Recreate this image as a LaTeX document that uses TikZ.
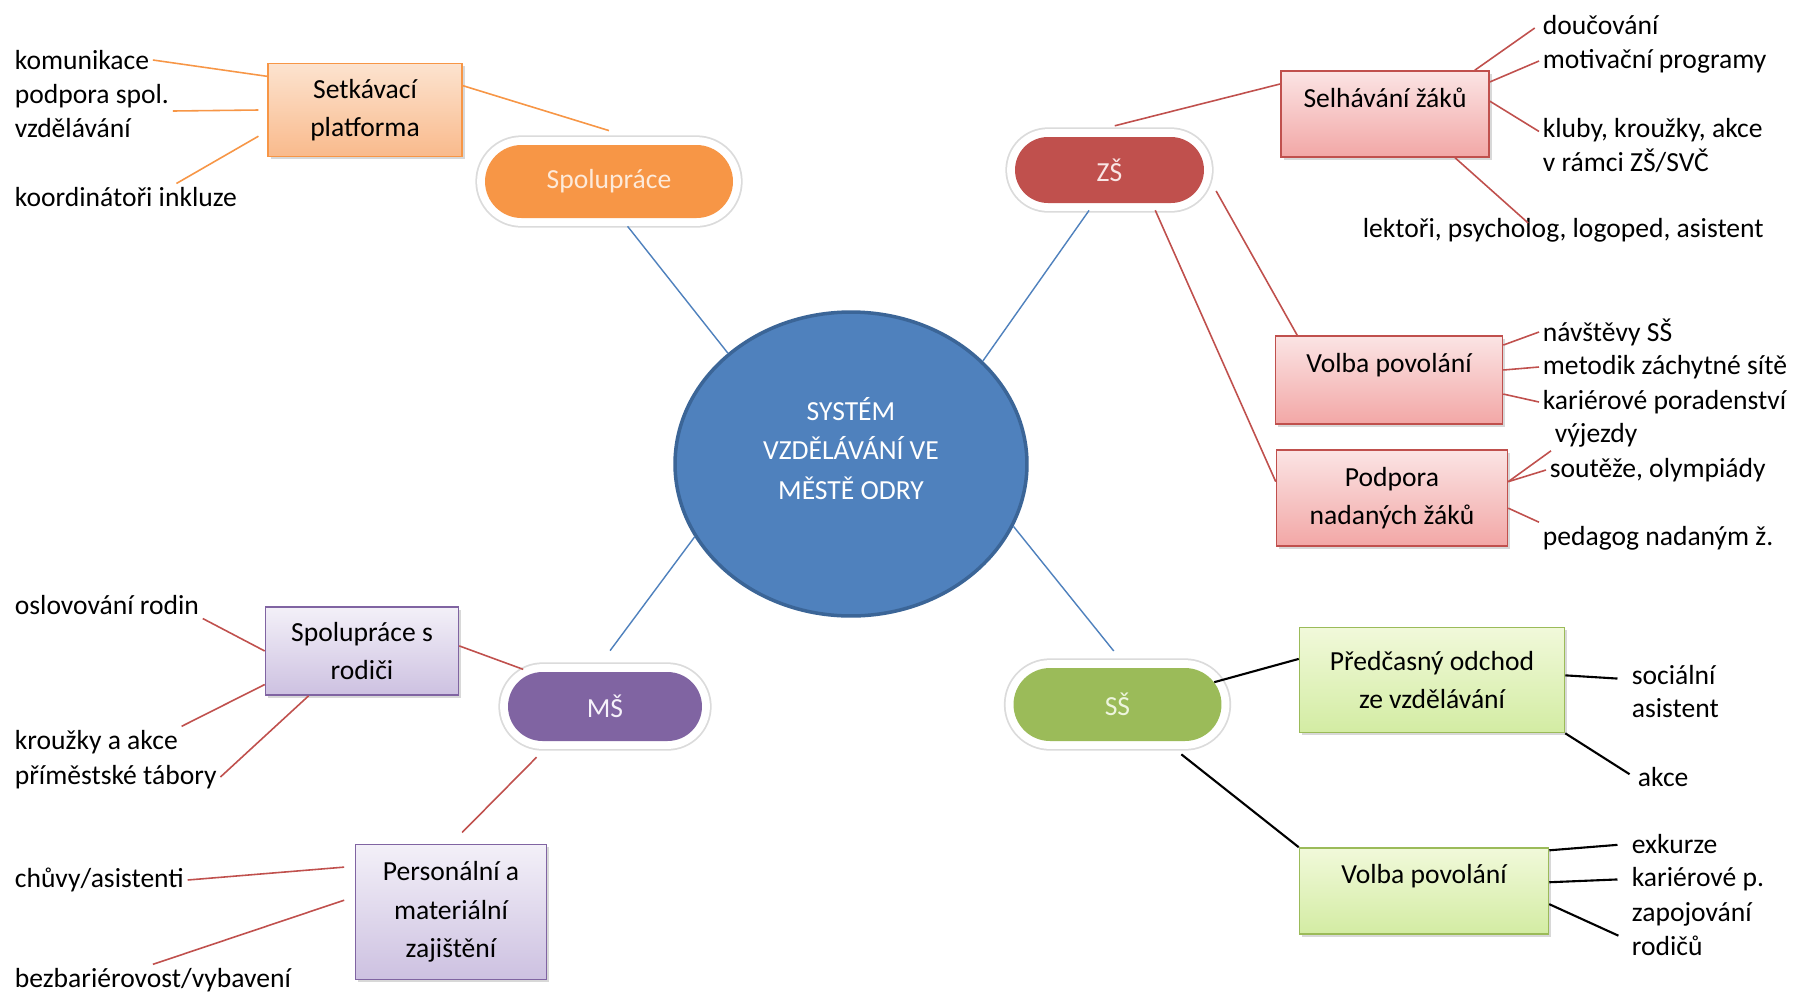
\documentclass[tikz,border=0pt]{standalone}
\usepackage{fontspec}
\setmainfont{Carlito}
\usetikzlibrary{positioning, shapes.geometric, shapes.misc, shadows}

\definecolor{sysblue}{HTML}{4F81BD}
\definecolor{sysbluedk}{HTML}{3B6597}
% pill colours
\definecolor{orgfill}{HTML}{F79646}
\definecolor{redfill}{HTML}{C0504D}
\definecolor{purfill}{HTML}{8064A2}
\definecolor{grnfill}{HTML}{9BBB59}
\definecolor{orgtxt}{HTML}{FDEADA}
\definecolor{redtxt}{HTML}{F9E6E5}
\definecolor{purtxt}{HTML}{F6F2FA}
\definecolor{grntxt}{HTML}{EEF5DE}
% box colours
\definecolor{orgtop}{HTML}{FCE3CF}
\definecolor{orgbot}{HTML}{F9BA8C}
\definecolor{orgline}{HTML}{F79646}
\definecolor{redtop}{HTML}{FBE4E4}
\definecolor{redbot}{HTML}{F2A7A6}
\definecolor{redline}{HTML}{C0504D}
\definecolor{purtop}{HTML}{F3F0F8}
\definecolor{purbot}{HTML}{CDC1E1}
\definecolor{purline}{HTML}{8064A2}
\definecolor{grntop}{HTML}{F1F9DA}
\definecolor{grnbot}{HTML}{D3ECA3}
\definecolor{grnline}{HTML}{9BBB59}

\newcommand{\txtfont}{\fontsize{15.7}{19.3}\selectfont}
\newcommand{\boxfont}{\fontsize{15.7}{22}\selectfont}

\begin{document}
\begin{tikzpicture}[x=0.02cm, y=-0.02cm,% one unit = one pixel of the 1796x995 sheet
   pill/.style = {rounded rectangle, fill=#1fill, text=#1txt, inner sep=0pt, font=\boxfont,
                  preaction={draw=black!14, line width=11pt},
                  preaction={draw=white, line width=9pt}},
    box/.style = {rectangle, draw=#1line, top color=#1top, bottom color=#1bot,
                  line width=0.9pt, inner sep=2pt, align=center, font=\boxfont,
                  drop shadow={shadow xshift=1.5pt, shadow yshift=-1.5pt, opacity=0.3}},
    lbl/.style = {anchor=west, inner sep=2pt, align=left, font=\txtfont},
  blink/.style = {draw=sysblue, line width=0.8pt},
  olink/.style = {draw=orgfill, line width=0.9pt},
  rlink/.style = {draw=redline, line width=0.9pt},
  klink/.style = {draw=black, line width=1.2pt}
                        ]
\fill[white] (0,0) rectangle (1796,995);
\useasboundingbox (0,0) rectangle (1796,995);

% centre
\node (ell) [ellipse, fill=sysblue, draw=sysbluedk, line width=2pt, text=white,
             minimum width=7.04cm, minimum height=6.08cm, align=center,
             font=\fontsize{15.7}{22.5}\selectfont, text depth=18pt] at (851,464)
             {SYSTÉM\\VZDĚLÁVÁNÍ VE\\MĚSTĚ ODRY};

% the four branches
\node (spol) [pill=org, minimum width=4.96cm, minimum height=1.46cm] at (609,181.5) {Spolupráce};
\node (zs)   [pill=red, minimum width=3.78cm, minimum height=1.32cm] at (1109.5,170) {ZŠ};
\node (ms)   [pill=pur, minimum width=3.88cm, minimum height=1.38cm] at (605,706.5) {MŠ};
\node (ss)   [pill=grn, minimum width=4.16cm, minimum height=1.46cm] at (1117.5,704.5) {SŠ};

% boxes
\node (setk)  [box=org, minimum width=3.88cm, minimum height=1.86cm] at (365,110) {Setkávací\\platforma};
\node (selh)  [box=red, minimum width=4.16cm, minimum height=1.72cm, text depth=19pt] at (1385,114) {Selhávání žáků};
\node (volzs) [box=red, minimum width=4.54cm, minimum height=1.76cm, text depth=19pt] at (1389,380) {Volba povolání};
\node (podp)  [box=red, minimum width=4.62cm, minimum height=1.92cm] at (1392,498) {Podpora\\nadaných žáků};
\node (sprod) [box=pur, minimum width=3.86cm, minimum height=1.76cm] at (362,651) {Spolupráce s\\rodiči};
\node (pers)  [box=pur, minimum width=3.82cm, minimum height=2.70cm] at (451,912) {Personální a\\materiální\\zajištění};
\node (pred)  [box=grn, minimum width=5.30cm, minimum height=2.10cm] at (1432,680) {Předčasný odchod\\ze vzdělávání};
\node (volss) [box=grn, minimum width=4.98cm, minimum height=1.72cm, text depth=19pt] at (1424,891) {Volba povolání};

% labels
\node (kom)   [lbl] at (11,60)     {komunikace};
\node (pod)   [lbl] at (11,111)    {podpora spol.\\vzdělávání};
\node (koord) [lbl] at (11,197)    {koordinátoři inkluze};
\node (dou)   [lbl] at (1539,25)   {doučování};
\node (mot)   [lbl] at (1539,61)   {motivační programy};
\node (klub)  [lbl] at (1539,145.5) {kluby, kroužky, akce\\v rámci ZŠ/SVČ};
\node (lek)   [lbl] at (1359,230)  {lektoři, psycholog, logoped, asistent};
\node (nav)   [lbl] at (1539,332)  {návštěvy SŠ};
\node (met)   [lbl] at (1539,367)  {metodik záchytné sítě};
\node (kar)   [lbl] at (1539,402)  {kariérové poradenství};
\node (vyj)   [lbl] at (1551,435)  {výjezdy};
\node (sout)  [lbl] at (1546,470)  {soutěže, olympiády};
\node (ped)   [lbl] at (1539,538)  {pedagog nadaným ž.};
\node (osl)   [lbl] at (11,605)    {oslovování rodin};
\node (krou)  [lbl] at (11,742)    {kroužky a akce};
\node (prim)  [lbl] at (11,777)    {příměstské tábory};
\node (chu)   [lbl] at (11,880)    {chůvy/asistenti};
\node (bez)   [lbl] at (11,980)    {bezbariérovost/vybavení};
\node (soc)   [lbl] at (1628,691.5) {sociální\\asistent};
\node (akce)  [lbl] at (1634,777)  {akce};
\node (exk)   [lbl] at (1628,844)  {exkurze};
\node (karp)  [lbl] at (1628,879)  {kariérové p.};
\node (zap)   [lbl] at (1628,929.5) {zapojování\\rodičů};

% centre to branches
\draw [blink, shorten >=5.8pt]  (ell.138) -- ([xshift=7pt]spol.south);
\draw [blink, shorten >=4.9pt]  (ell.38)  -- ([xshift=-8.8pt]zs.south);
\draw [blink, shorten >=14.9pt] (ell.205) -- ([xshift=-6pt]ms.north);
\draw [blink, shorten >=12.2pt] (ell.-21) -- ([xshift=5.5pt]ss.north);

% Spolupráce
\draw [olink] (setk.14) -- ([yshift=8pt]spol.north);
\draw [olink] (kom.east) -- (setk.161);
\draw [olink] (pod.east) -- ([xshift=-5pt]setk.west);
\draw [olink] (koord.15) -- ([xshift=-5pt]setk.195);

% ZŠ
\draw [rlink] ([xshift=3pt,yshift=6.2pt]zs.north) -- (selh.164);
\draw [rlink, shorten <=13.7pt] (zs.east) -- (volzs.154);
\draw [rlink, shorten <=4.3pt] (zs.-38) -- (podp.172);
\draw [rlink, shorten >=3pt] (selh.26) -- (dou.west);
\draw [rlink] (selh.17) -- (mot.west);
\draw [rlink] (selh.7) -- ([yshift=8pt]klub.west);
\draw [rlink] (selh.-32) -- ([xshift=-20pt,yshift=-5pt]lek.north);
\draw [rlink] (volzs.17) -- (nav.west);
\draw [rlink] (volzs.5) -- (met.west);
\draw [rlink] (volzs.-7) -- (kar.west);
\draw [rlink] (podp.8) -- (vyj.south west);
\draw [rlink] (podp.8) -- (sout.west);
\draw [rlink] (podp.-5) -- (ped.north west);

% MŠ
\draw [rlink, shorten <=6pt] (ms.155) -- (sprod.3);
\draw [rlink, shorten <=12.7pt, shorten >=9pt] ([xshift=-30pt]ms.south) -- (pers.north);
\draw [rlink] (osl.south east) -- (sprod.west);
\draw [rlink] (krou.north east) -- (sprod.199);
\draw [rlink] (prim.east) -- (sprod.220);
\draw [rlink] (chu.east) -- ([xshift=-6pt]pers.155);
\draw [rlink] (bez.north) -- ([xshift=-6pt]pers.173);

% SŠ
\draw [klink] (ss.13) -- (pred.171);
\draw [klink, shorten <=11.9pt] ([xshift=27pt]ss.south) -- (volss.north west);
\draw [klink, shorten >=6pt] (pred.2) -- ([yshift=7pt]soc.west);
\draw [klink, shorten >=3pt] (pred.south east) -- (akce.west);
\draw [klink, shorten >=6pt] (volss.18) -- (exk.west);
\draw [klink, shorten >=6pt] (volss.4) -- (karp.west);
\draw [klink, shorten >=6pt] (volss.-6) -- ([yshift=-6pt]zap.west);
\end{tikzpicture}
\end{document}
